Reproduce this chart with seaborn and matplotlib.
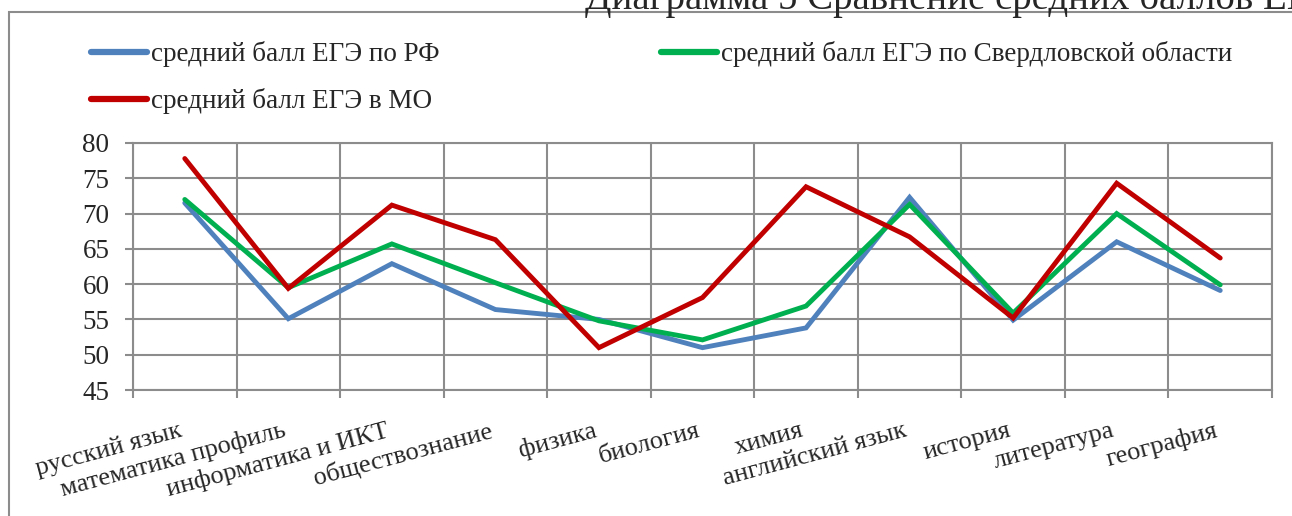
import numpy as np
import pandas as pd
import matplotlib
matplotlib.use('Agg')
import matplotlib.pyplot as plt
import matplotlib.patches as patches
import seaborn as sns

subjects = ['русский язык', 'математика профиль', 'информатика и ИКТ',
            'обществознание', 'физика', 'биология', 'химия',
            'английский язык', 'история', 'литература', 'география']

rf = [71.5, 55.1, 62.9, 56.4, 55.0, 51.0, 53.8, 72.3, 54.9, 66.0, 59.1]
sverdl = [72.0, 59.5, 65.7, 60.2, 54.8, 52.1, 56.9, 71.3, 55.9, 70.0, 59.9]
mo = [77.8, 59.4, 71.2, 66.3, 51.0, 58.1, 73.8, 66.7, 55.2, 74.3, 63.7]

series_names = ['средний балл ЕГЭ по РФ',
                'средний балл ЕГЭ по Свердловской области',
                'средний балл ЕГЭ в МО']
colors = ['#4F81BD', '#00B050', '#C00000']

yticks = [45, 50, 55, 60, 65, 70, 75, 80]

rows = []
for name, vals in zip(series_names, [rf, sverdl, mo]):
    for i, v in enumerate(vals):
        rows.append({'pos': i, 'subject': subjects[i], 'score': v, 'series': name})
df = pd.DataFrame(rows)

sns.set_style('white')
plt.rcParams['font.family'] = ['Liberation Serif', 'DejaVu Serif']

fig = plt.figure(figsize=(12.92, 5.16), dpi=100)
ax = fig.add_axes([133 / 1292, 1 - 390 / 516, (1272 - 133) / 1292, (390 - 143) / 516])

sns.lineplot(data=df, x='pos', y='score', hue='series', palette=colors,
             hue_order=series_names, linewidth=3.5, ax=ax, legend=False,
             solid_capstyle='round', solid_joinstyle='miter')

grid_c = '#8C8C8C'
ax.set_xlim(-0.5, len(subjects) - 0.5)
ax.set_ylim(45, 80)
ax.set_yticks(yticks)
ax.set_xticks(np.arange(len(subjects)))
ax.set_xticklabels(subjects, rotation=15, ha='right', va='top')
ax.set_xticks(np.arange(-0.5, len(subjects), 1), minor=True)
ax.set_xlabel('')
ax.set_ylabel('')

ax.grid(True, axis='y', which='major', color=grid_c, linewidth=1.5)
ax.grid(True, axis='x', which='minor', color=grid_c, linewidth=1.5)
ax.set_axisbelow(True)
for s in ax.spines.values():
    s.set_color(grid_c)
    s.set_linewidth(1.5)

ax.tick_params(axis='x', which='major', length=0, pad=21, labelsize=19)
ax.tick_params(axis='x', which='minor', length=6, width=1.5, color=grid_c, direction='out', bottom=True)
ax.tick_params(axis='y', which='major', length=6, width=1.5, color=grid_c, direction='out', left=True,
               pad=11, labelsize=19.5)

# legend, row-major order as in the source chart
handles = [plt.Line2D([], [], color=c, linewidth=4.5, solid_capstyle='round') for c in colors]
order = [0, 2, 1]
fig.legend([handles[i] for i in order], [series_names[i] for i in order],
           loc='upper left', bbox_to_anchor=(91 / 1292, 1 - 41 / 516), ncol=2,
           frameon=False, fontsize=19.5, handlelength=2.05, handletextpad=0.15,
           columnspacing=8.2, labelspacing=0.78, borderpad=0, borderaxespad=0)

# outer chart frame and the clipped caption above it
fig.patches.append(patches.Rectangle((9 / 1292, -0.1), 1.2, 1 - 12 / 516 + 0.1,
                                     transform=fig.transFigure, fill=False,
                                     edgecolor=grid_c, linewidth=1.5))
fig.text(585 / 1292, 1 - 9 / 516, 'Диаграмма 5 Сравнение средних баллов ЕГЭ',
         fontsize=28, ha='left', va='baseline')

fig.savefig('out.png', dpi=100)
